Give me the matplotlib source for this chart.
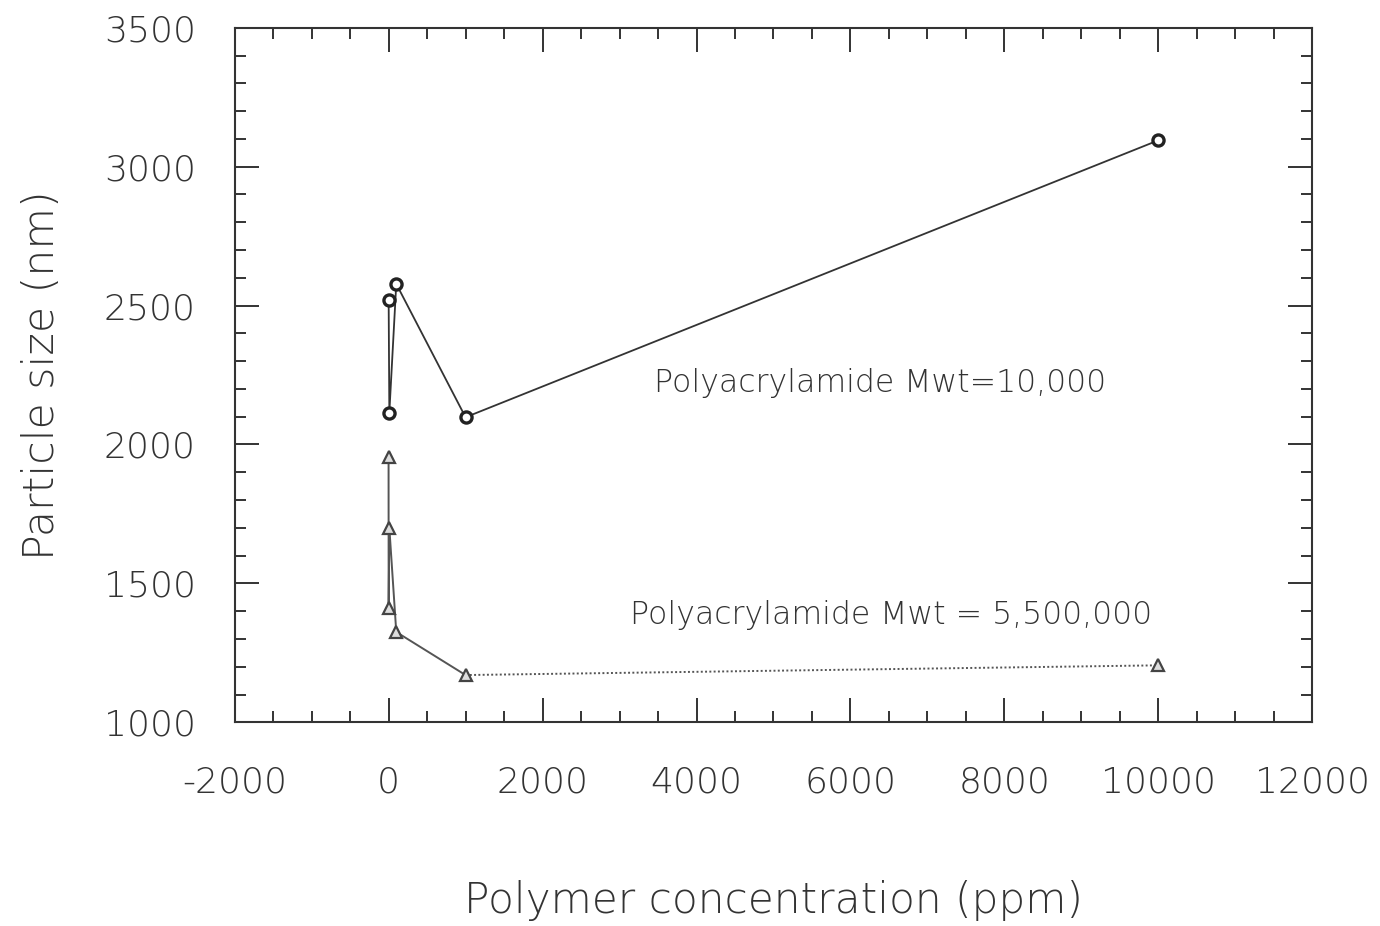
import matplotlib
matplotlib.use("Agg")
import matplotlib.pyplot as plt
from matplotlib.ticker import MultipleLocator

# Data
conc_low = [1, 10, 100, 1000, 10000]            # Mwt = 10,000
size_low = [2520, 2115, 2578, 2098, 3095]
conc_high = [0, 1, 10, 100, 1000, 10000]        # Mwt = 5,500,000
size_high = [1955, 1410, 1700, 1325, 1170, 1205]

label_low = "Polyacrylamide Mwt=10,000"
label_high = "Polyacrylamide Mwt = 5,500,000"
xlabel = "Polymer concentration (ppm)"
ylabel = "Particle size (nm)"

plt.rcParams['font.family'] = ['DejaVu Sans']
plt.rcParams['axes.unicode_minus'] = False
txt = '#333333'
fw = 'light'

fig = plt.figure(figsize=(13.8, 9.26), dpi=100)
ax = fig.add_axes([0.170, 0.220, 0.781, 0.750])

# circles series
ax.plot(conc_low, size_low, color='#333333', lw=1.3, marker='o', ms=8,
        mfc='white', mec='#222222', mew=2.4)

# triangles series: solid for first part, dotted for last segment
ax.plot(conc_high[:-1], size_high[:-1], color='#555555', lw=1.4)
ax.plot(conc_high[-2:], size_high[-2:], color='#555555', lw=1.4, ls=(0, (1, 1.2)))
ax.plot(conc_high, size_high, ls='none', marker='^', ms=9, mfc='#dddddd',
        mec='#444444', mew=1.6)

ax.text(3450, 2222, label_low, fontsize=22.7, color=txt, va='center', ha='left',
        fontweight=fw)
ax.text(3130, 1385, label_high, fontsize=22.7, color=txt, va='center', ha='left',
        fontweight=fw)

ax.set_xlim(-2000, 12000)
ax.set_ylim(1000, 3500)
ax.xaxis.set_major_locator(MultipleLocator(2000))
ax.xaxis.set_minor_locator(MultipleLocator(500))
ax.yaxis.set_major_locator(MultipleLocator(500))
ax.yaxis.set_minor_locator(MultipleLocator(100))

ax.tick_params(which='both', direction='in', top=True, right=True,
               color='#333333', width=1.4)
ax.tick_params(which='major', length=17, labelsize=26, labelcolor=txt)
ax.tick_params(axis='x', which='major', pad=31)
ax.tick_params(axis='y', which='major', pad=28)
ax.tick_params(which='minor', length=8)
for lab in ax.get_xticklabels() + ax.get_yticklabels():
    lab.set_fontweight(fw)

for s in ax.spines.values():
    s.set_color('#333333')
    s.set_linewidth(1.5)

ax.set_xlabel(xlabel, fontsize=30.4, color=txt, labelpad=58, fontweight=fw)
ax.set_ylabel(ylabel, fontsize=30.7, color=txt, labelpad=30, fontweight=fw)

fig.savefig('out.png', dpi=100)
